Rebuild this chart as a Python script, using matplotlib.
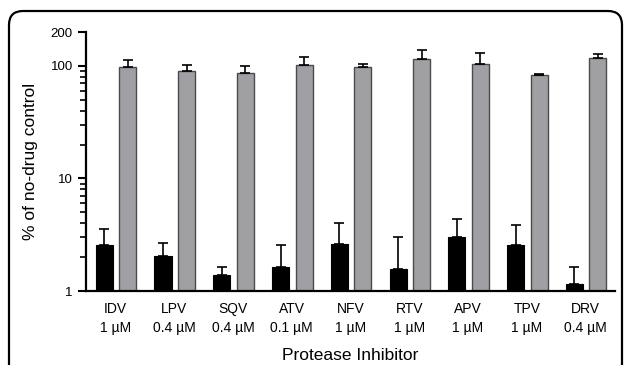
import matplotlib.pyplot as plt
import matplotlib.patches as patches
import numpy as np

plt.rcParams['font.family'] = ['Liberation Sans', 'DejaVu Sans']

# inhibitors and concentrations
drugs = ["IDV", "LPV", "SQV", "ATV", "NFV", "RTV", "APV", "TPV", "DRV"]
doses = ["1 µM", "0.4 µM", "0.4 µM", "0.1 µM", "1 µM", "1 µM", "1 µM", "1 µM", "0.4 µM"]

# black bars (low series) and upper error
black_vals = [2.55, 2.04, 1.38, 1.64, 2.64, 1.56, 2.99, 2.55, 1.16]
black_err = [0.99, 0.62, 0.26, 0.90, 1.38, 1.43, 1.35, 1.29, 0.48]

# gray bars (high series) and upper error
gray_vals = [98.6, 89.8, 86.7, 101.4, 97.3, 114.5, 103.6, 83.2, 118.3]
gray_err = [15.1, 12.2, 12.3, 19.6, 5.7, 24.5, 27.4, 0.8, 9.7]

fig = plt.figure(figsize=(6.25, 3.65), dpi=100)
ax = fig.add_axes([0.1376, 0.2027, 0.8464, 0.7096])

x = np.arange(len(drugs))
w = 0.29
ax.bar(x - 0.19, black_vals, w, color="black", edgecolor="black", linewidth=0.8,
       yerr=[np.zeros(len(black_err)), black_err], capsize=3.5,
       error_kw=dict(ecolor="black", elinewidth=1.2, capthick=1.2))
ax.bar(x + 0.21, gray_vals, w, color="#a0a0a4", edgecolor="#4a4a4a", linewidth=1.0,
       yerr=[np.zeros(len(gray_err)), gray_err], capsize=3.5,
       error_kw=dict(ecolor="black", elinewidth=1.2, capthick=1.2))

ax.set_yscale("log")
ax.set_ylim(1, 200)
ax.set_xlim(-0.5, len(drugs) - 0.5)
ax.set_yticks([1, 10, 100, 200])
ax.set_yticklabels(["1", "10", "100", "200"])
ax.tick_params(axis="y", which="major", direction="out", length=6, width=1.5, labelsize=9.5)
ax.tick_params(axis="y", which="minor", direction="out", length=4, width=1.2)
ax.set_xticks(x)
ax.set_xticklabels([d + "\n" + c for d, c in zip(drugs, doses)], fontsize=10, linespacing=1.4)
ax.tick_params(axis="x", length=0, pad=8)

for s in ["top", "right"]:
    ax.spines[s].set_visible(False)
for s in ["left", "bottom"]:
    ax.spines[s].set_linewidth(1.6)

ax.set_ylabel("% of no-drug control", fontsize=12.5, labelpad=9)
ax.set_xlabel("Protease Inhibitor", fontsize=12.5, labelpad=10)

# rounded frame around the figure (open at the bottom)
frame = patches.FancyBboxPatch((9, -60), 613, 414,
                               boxstyle="round,pad=0,rounding_size=14",
                               transform=None, fill=False, edgecolor="black",
                               linewidth=1.6, clip_on=False)
fig.add_artist(frame)

plt.savefig("out.png", dpi=100)
